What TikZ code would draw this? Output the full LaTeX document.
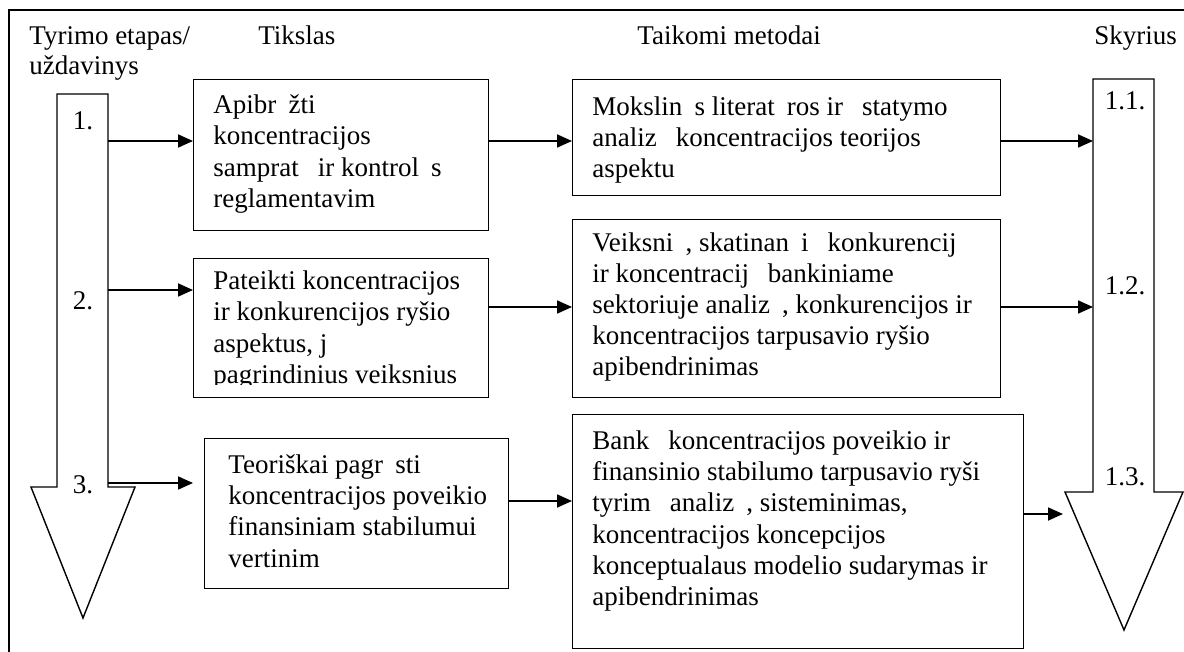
\documentclass[tikz,border=0pt]{standalone}
\usepackage{fontspec}
\setmainfont{Liberation Serif}
\usetikzlibrary{arrows.meta,calc}
\newcommand{\gp}{\hspace{0.45em}}
\begin{document}
\begin{tikzpicture}[x=0.5pt,y=-0.5pt,
  box/.style={draw, line width=0.7pt, inner sep=0pt, anchor=north west},
  txt/.style={font=\fontsize{13.5}{15.6}\selectfont, align=left, inner sep=0pt, anchor=west},
  hdr/.style={font=\fontsize{13.5}{15.6}\selectfont, inner sep=0pt, anchor=base west},
  num/.style={font=\fontsize{13.5}{15.6}\selectfont, inner sep=0pt, anchor=base},
  arr/.style={line width=0.9pt, -{Triangle[length=7.5pt,width=6.5pt]}},
  big/.style={draw, line width=0.7pt, fill=white, line join=miter}]
\useasboundingbox (0,0) rectangle (1184,652);
% frame (top and left edges)
\draw[line width=0.7pt] (9,652) -- (9,10) -- (1184,10);
% headers
\node[hdr] (h1) at (29,45) {Tyrimo etapas/};
\node[hdr] (h1b) at (29,75) {uždavinys};
\node[hdr] (h2) at (258,45) {Tikslas};
\node[hdr] (h3) at (637,45) {Taikomi metodai};
\node[hdr] (h4) at (1094,45) {Skyrius};
% big arrows
\draw[big] (57,94) -- (108,94) -- (108,487) -- (135,487) -- (83,618) -- (31,487) -- (57,487) -- cycle;
\draw[big] (1093,79) -- (1154,79) -- (1154,492) -- (1183,492) -- (1124,630) -- (1065,492) -- (1093,492) -- cycle;
\node[num] (n1) at (83,130) {1.};
\node[num] (n2) at (83,310) {2.};
\node[num] (n3) at (83,493) {3.};
\node[num] (s1) at (1125,110) {1.1.};
\node[num] (s2) at (1125,295) {1.2.};
\node[num] (s3) at (1125,485) {1.3.};
% anchor coordinates on the big arrows
\coordinate (L1) at (108,141);
\coordinate (L2) at (108,290);
\coordinate (L3) at (108,483);
\coordinate (R1) at (1093,141);
\coordinate (R2) at (1093,307);
\coordinate (R3) at (1063,514);
% goal boxes
\node[box, minimum width=147.5pt, minimum height=75.5pt] (b1) at (193,79) {};
\node[box, minimum width=147.5pt, minimum height=69.5pt] (b2) at (193,258) {};
\node[box, minimum width=152pt, minimum height=75pt] (b3) at (204,438) {};
% method boxes
\node[box, minimum width=214pt, minimum height=58pt] (m1) at (572,79) {};
\node[box, minimum width=214pt, minimum height=89pt] (m2) at (572,219) {};
\node[box, minimum width=225.5pt, minimum height=117pt] (m3) at (572,414) {};
% texts
\node[txt] (t1) at (213,154) {Apibr\gp žti\\koncentracijos\\samprat\gp\ ir kontrol\gp s\\reglamentavim};
\begin{scope}
\clip (193,258) rectangle (488,385);
\node[txt] (t2) at (213,330) {Pateikti koncentracijos\\ir konkurencijos ryšio\\aspektus, j\\pagrindinius veiksnius};
\end{scope}
\node[txt] (t3) at (228,511) {Teoriškai pagr\gp sti\\koncentracijos poveikio\\finansiniam stabilumui\\vertinim};
\node[txt] (u1) at (592,140) {Mokslin\gp s literat\gp ros ir \gp statymo\\analiz\gp\ koncentracijos teorijos\\aspektu};
\node[txt] (u2) at (592,307) {Veiksni\gp, skatinan\gp i\ \gp konkurencij\\ir koncentracij\gp\ bankiniame\\sektoriuje analiz\gp, konkurencijos ir\\koncentracijos tarpusavio ryšio\\apibendrinimas};
\node[txt] (u3) at (592,521) {Bank\gp\ koncentracijos poveikio ir\\finansinio stabilumo tarpusavio ryši\\tyrim\gp\ analiz\gp, sisteminimas,\\koncentracijos koncepcijos\\konceptualaus modelio sudarymas ir\\apibendrinimas};
% connectors
\draw[arr] (L1) -- (L1 -| b1.west);
\draw[arr] (L2) -- (L2 -| b2.west);
\draw[arr] (L3) -- ($(L3 -| b3.west)+(-11,0)$);
\draw[arr] (b1.east |- L1) -- (m1.west |- L1);
\draw[arr] (b2.east |- R2) -- (m2.west |- R2);
\draw[arr] (b3.east |- 0,501) -- (m3.west |- 0,501);
\draw[arr] (m1.east |- R1) -- (R1);
\draw[arr] (m2.east |- R2) -- (R2);
\draw[arr] (m3.east |- R3) -- (R3);
\end{tikzpicture}
\end{document}
